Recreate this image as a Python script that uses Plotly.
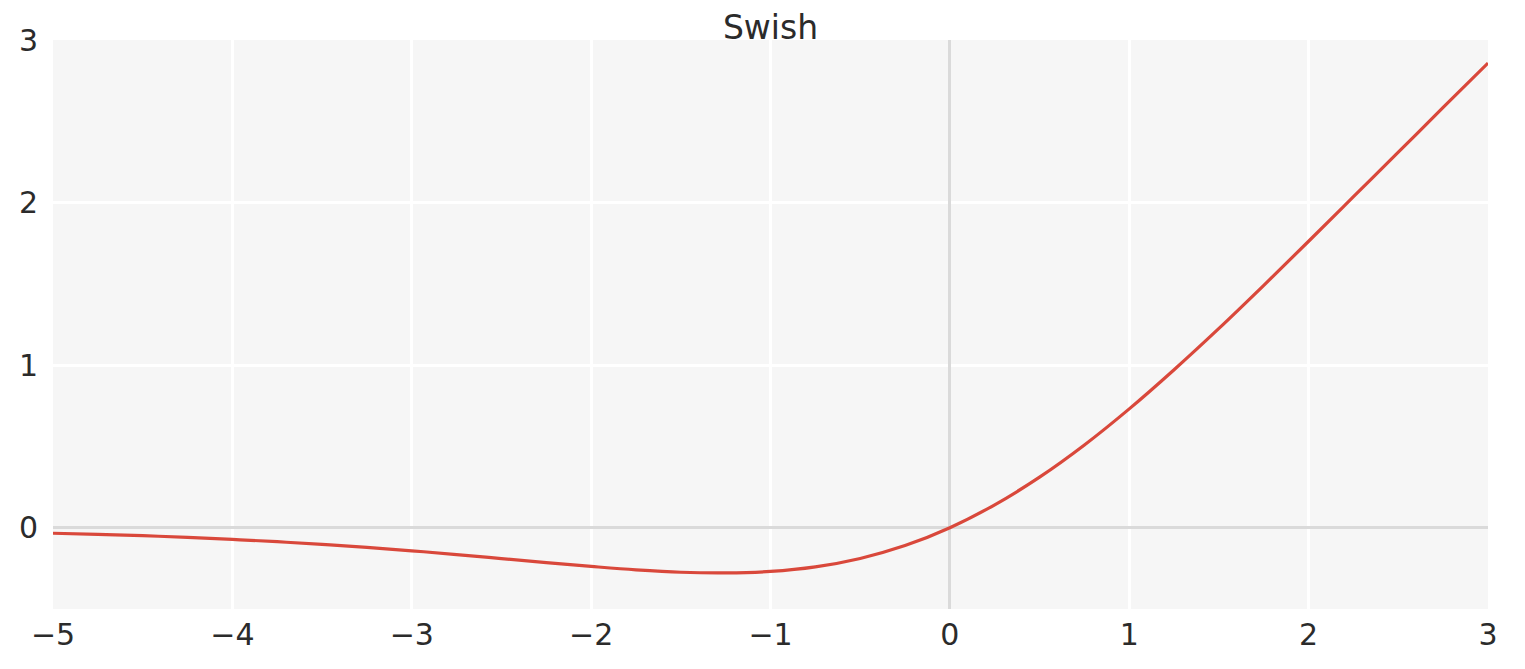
import plotly.graph_objects as go

# Values (x, y of the Swish curve)
x_vals = [-5.0, -4.75, -4.5, -4.25, -4.0, -3.75, -3.5, -3.25, -3.0, -2.75, -2.5, -2.25,
          -2.0, -1.75, -1.5, -1.25, -1.0, -0.75, -0.5, -0.25, 0.0, 0.25, 0.5, 0.75,
          1.0, 1.25, 1.5, 1.75, 2.0, 2.25, 2.5, 2.75, 3.0]
y_vals = [-0.034, -0.041, -0.049, -0.060, -0.072, -0.086, -0.103, -0.121, -0.142, -0.165,
          -0.190, -0.215, -0.238, -0.259, -0.274, -0.278, -0.269, -0.241, -0.189, -0.110,
          0.0, 0.141, 0.311, 0.509, 0.731, 0.972, 1.226, 1.491, 1.762, 2.036, 2.310,
          2.585, 2.858]
x_ticks = [-5, -4, -3, -2, -1, 0, 1, 2, 3]
x_tick_text = ["\u22125", "\u22124", "\u22123", "\u22122", "\u22121", "0", "1", "2", "3"]
y_ticks = [0, 1, 2, 3]
y_tick_text = ["0", "1", "2", "3"]
title_text = "Swish"

fig = go.Figure()
fig.add_trace(go.Scatter(x=x_vals, y=y_vals, mode="lines",
                         line=dict(color="#d9483b", width=3.2, shape="spline"),
                         showlegend=False))

font_family = "DejaVu Sans"
fig.update_layout(
    width=1517, height=653,
    margin=dict(l=45, r=37, t=32, b=52, autoexpand=False),
    paper_bgcolor="white",
    plot_bgcolor="#f6f6f6",
    font=dict(family=font_family, color="#2b2b2b", size=30),
    title=dict(text=title_text, x=0.5, xanchor="center", xref="paper",
               y=1, yref="paper", yanchor="bottom", pad=dict(b=1),
               automargin=False,
               font=dict(size=33, family=font_family, color="#2b2b2b")),
)
fig.update_xaxes(range=[-5, 3], tickvals=x_ticks, ticktext=x_tick_text,
                 showgrid=True, gridcolor="white", gridwidth=2.5,
                 zeroline=True, zerolinecolor="#dadada", zerolinewidth=3,
                 showline=False, ticks="", ticklabelstandoff=5, automargin=False,
                 tickfont=dict(size=30))
fig.update_yaxes(range=[-0.5, 3], tickvals=y_ticks, ticktext=y_tick_text,
                 showgrid=True, gridcolor="white", gridwidth=2.5,
                 zeroline=True, zerolinecolor="#dadada", zerolinewidth=3,
                 showline=False, ticks="", ticklabelstandoff=14, automargin=False,
                 tickfont=dict(size=30))

fig.write_html("out.html")
